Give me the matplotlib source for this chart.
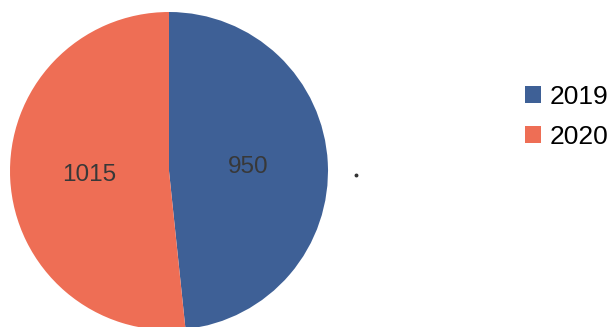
import matplotlib
matplotlib.use("Agg")
import matplotlib.pyplot as plt
from matplotlib.patches import Patch
from matplotlib.lines import Line2D

years = ["2019", "2020"]
counts = [950, 1015]
colors = ["#3e6096", "#ee6e55"]

plt.rcParams["font.family"] = ["Liberation Sans", "DejaVu Sans"]

W, H = 608, 327
fig = plt.figure(figsize=(W / 100, H / 100), dpi=100)

# pie placed by pixel geometry: centre and radius
cx, cy, r = 169, 171, 159
ax = fig.add_axes([(cx - r) / W, (H - cy - r) / H, 2 * r / W, 2 * r / H])
total = sum(counts)
ax.pie(
    counts,
    colors=colors,
    startangle=90,
    counterclock=False,
    autopct=lambda p: f"{p * total / 100:.0f}",
    pctdistance=0.5,
    textprops=dict(fontsize=17.5, color="#383838"),
    wedgeprops=dict(linewidth=0),
)
ax.set_xlim(-1, 1)
ax.set_ylim(-1, 1)
ax.set_aspect("equal")
ax.axis("off")

handles = [Patch(facecolor=c, edgecolor="none") for c in colors]
fig.legend(
    handles,
    years,
    loc="upper left",
    bbox_to_anchor=(525 / W, 1 - 85 / H),
    frameon=False,
    fontsize=19,
    handlelength=0.62,
    handleheight=0.62,
    handletextpad=0.3,
    labelspacing=0.6,
    borderpad=0,
    borderaxespad=0,
)

# small stray dot to the right of the pie
fig.add_artist(Line2D([356 / W], [1 - 175 / H], marker="o", markersize=1.8,
                      color="#333333", linestyle="none",
                      transform=fig.transFigure))

fig.savefig("out.png", dpi=100, facecolor="white")
